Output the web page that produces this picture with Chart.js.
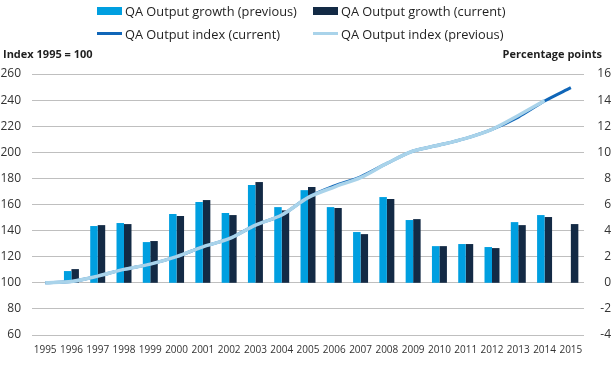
<!DOCTYPE html>
<html>
<head>
<meta charset="utf-8">
<script src="https://cdn.jsdelivr.net/npm/chart.js@4/dist/chart.umd.min.js"></script>
<style>
  html, body { margin: 0; padding: 0; background: #fff; }
  #wrap { position: relative; width: 611px; height: 371px; overflow: hidden; font-family: "Open Sans", sans-serif; color: #1f1f1f; }
  #c { position: absolute; left: 0; top: 0; }
  .lg { position: absolute; font-size: 12.8px; line-height: 16px; white-space: nowrap; }
  .sw { position: absolute; }
  .ttl { position: absolute; font-size: 11px; font-weight: bold; line-height: 14px; white-space: nowrap; }
</style>
</head>
<body>
<div id="wrap">
  <canvas id="c" width="611" height="371"></canvas>
  <div class="sw" style="left:97px;top:7px;width:25px;height:8px;background:#009fe0"></div>
  <div class="lg" style="left:125px;top:3px">QA Output growth (previous)</div>
  <div class="sw" style="left:313px;top:7px;width:25px;height:8px;background:#132a45"></div>
  <div class="lg" style="left:341px;top:3px">QA Output growth (current)</div>
  <div class="sw" style="left:97px;top:32px;width:25px;height:3px;background:#1066b8"></div>
  <div class="lg" style="left:125px;top:26px">QA Output index (current)</div>
  <div class="sw" style="left:313px;top:32px;width:25px;height:3px;background:#a9d3ea"></div>
  <div class="lg" style="left:341px;top:26px">QA Output index (previous)</div>
  <div class="ttl" style="left:3px;top:47px">Index 1995 = 100</div>
  <div class="ttl" style="right:9px;top:47px">Percentage points</div>
</div>
<script>
const years = ["1995","1996","1997","1998","1999","2000","2001","2002","2003","2004","2005","2006","2007","2008","2009","2010","2011","2012","2013","2014","2015"];
const growthPrevious = [null, 0.9, 4.35, 4.58, 3.12, 5.27, 6.19, 5.35, 7.49, 5.8, 7.1, 5.8, 3.89, 6.57, 4.81, 2.81, 2.97, 2.74, 4.65, 5.19, null];
const growthCurrent  = [null, 1.05, 4.42, 4.5, 3.2, 5.12, 6.34, 5.19, 7.72, 5.55, 7.34, 5.73, 3.73, 6.42, 4.88, 2.81, 2.97, 2.66, 4.42, 5.04, 4.5];
const indexCurrent   = [100, 101, 105.1, 110.3, 114.3, 120, 127.6, 133.8, 144.2, 151.9, 165.5, 174.2, 181.2, 191.5, 201, 205.6, 210.7, 217.6, 227.0, 239.3, 249.5];
const indexPrevious  = [100, 101, 105.1, 110.3, 114.3, 120, 127.6, 133.8, 144.2, 151.9, 165.3, 173.4, 180.6, 191.5, 201, 205.6, 210.7, 217.6, 228.2, 239.6, null];
const leftTicks = { min: 60, max: 260, step: 20 };
const rightTicks = { min: -4, max: 16, step: 2 };

new Chart(document.getElementById('c'), {
  data: {
    labels: years,
    datasets: [
      { type: 'line', label: 'QA Output index (previous)', data: indexPrevious, yAxisID: 'y',
        borderColor: '#a9d3ea', borderWidth: 3.5, pointRadius: 0, tension: 0.3, order: 0 },
      { type: 'line', label: 'QA Output index (current)', data: indexCurrent, yAxisID: 'y',
        borderColor: '#1066b8', borderWidth: 3, pointRadius: 0, tension: 0.3, order: 1 },
      { type: 'bar', label: 'QA Output growth (previous)', data: growthPrevious, yAxisID: 'y1',
        backgroundColor: '#009fe0', order: 2, categoryPercentage: 0.57, barPercentage: 1.0 },
      { type: 'bar', label: 'QA Output growth (current)', data: growthCurrent, yAxisID: 'y1',
        backgroundColor: '#132a45', order: 3, categoryPercentage: 0.57, barPercentage: 1.0 }
    ]
  },
  options: {
    responsive: false,
    animation: false,
    layout: { padding: { top: 74, left: 0, right: 0, bottom: 0 } },
    plugins: { legend: { display: false }, tooltip: { enabled: false } },
    scales: {
      x: {
        grid: { display: false, drawTicks: false },
        border: { display: false },
        ticks: { autoSkip: false, maxRotation: 0, padding: 9, color: '#333',
                 font: { family: '"Liberation Sans Narrow", "Open Sans", sans-serif', size: 10 } },
        afterFit: s => { s.height = 36; }
      },
      y: {
        position: 'left', min: leftTicks.min, max: leftTicks.max,
        grid: { color: '#bfbfbf', lineWidth: 1, drawTicks: false },
        border: { display: false },
        ticks: { stepSize: leftTicks.step, padding: 11, color: '#333',
                 font: { family: '"Open Sans", sans-serif', size: 12 } },
        afterFit: s => { s.width = 32; }
      },
      y1: {
        position: 'right', min: rightTicks.min, max: rightTicks.max,
        grid: { display: false, drawTicks: false },
        border: { display: false },
        ticks: { stepSize: rightTicks.step, padding: 6, crossAlign: 'far', color: '#333',
                 font: { family: '"Open Sans", sans-serif', size: 12 } },
        afterFit: s => { s.width = 27; }
      }
    }
  }
});
</script>
</body>
</html>
